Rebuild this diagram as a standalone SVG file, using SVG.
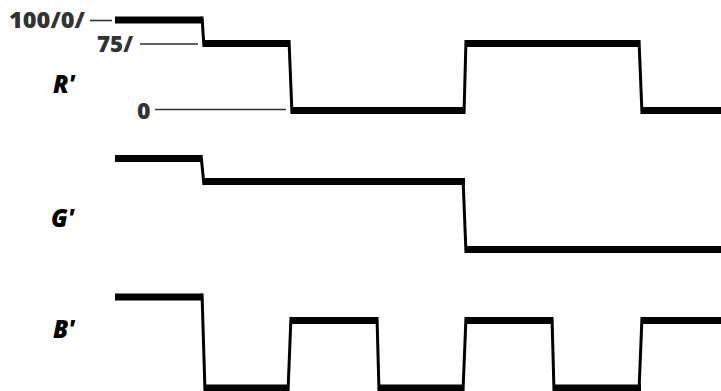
<svg xmlns="http://www.w3.org/2000/svg" width="721" height="391" viewBox="0 0 721 391">
<style>
.h{stroke:#000;stroke-width:7;fill:none;stroke-linecap:butt}
.v{stroke:#000;stroke-width:3;fill:none;stroke-linecap:butt}
.lvl{font-family:"Open Sans","Liberation Sans",sans-serif;font-weight:800;font-size:23px;fill:#333}
.sig{font-family:"Open Sans","Liberation Sans",sans-serif;font-weight:800;font-style:italic;font-size:24px;fill:#000}
.ref{stroke:#333;stroke-width:1.6;fill:none}
</style>
<rect width="721" height="391" fill="#fff"/>
<g id="labels">
<text class="lvl" x="9" y="28" textLength="76" lengthAdjust="spacingAndGlyphs">100/0/</text>
<text class="lvl" x="97" y="52" textLength="36" lengthAdjust="spacingAndGlyphs">75/</text>
<text class="lvl" x="137" y="119">0</text>
</g>
<g id="connectors">
<line class="ref" x1="90" y1="20.5" x2="112" y2="20.5"/>
<line class="ref" x1="140" y1="44" x2="198" y2="44"/>
<line class="ref" x1="155" y1="109.5" x2="286" y2="109.5"/>
</g>
<g id="R">
<text class="sig" x="53" y="93">R'</text>
<line class="h" x1="115" y1="20" x2="202" y2="20"/>
<line class="v" x1="202" y1="16.5" x2="204" y2="47"/>
<line class="h" x1="203" y1="43.5" x2="289" y2="43.5"/>
<line class="v" x1="289" y1="40" x2="292" y2="114"/>
<line class="h" x1="291" y1="110.5" x2="464" y2="110.5"/>
<line class="v" x1="464" y1="114" x2="466" y2="40"/>
<line class="h" x1="465" y1="43.5" x2="640" y2="43.5"/>
<line class="v" x1="639" y1="40" x2="642" y2="114"/>
<line class="h" x1="641" y1="110.5" x2="721" y2="110.5"/>
</g>
<g id="G">
<text class="sig" x="51" y="227">G'</text>
<line class="h" x1="115" y1="158.5" x2="202" y2="158.5"/>
<line class="v" x1="201" y1="155" x2="204" y2="185"/>
<line class="h" x1="203" y1="181.5" x2="465" y2="181.5"/>
<line class="v" x1="463" y1="178" x2="466" y2="253"/>
<line class="h" x1="465" y1="249.5" x2="721" y2="249.5"/>
</g>
<g id="B">
<text class="sig" x="53" y="338">B'</text>
<line class="h" x1="115" y1="297" x2="203" y2="297"/>
<line class="v" x1="202" y1="293.5" x2="205" y2="391"/>
<line class="h" x1="204" y1="388" x2="289" y2="388"/>
<line class="v" x1="288" y1="391" x2="291" y2="317"/>
<line class="h" x1="290" y1="320.5" x2="378" y2="320.5"/>
<line class="v" x1="377" y1="317" x2="379" y2="391"/>
<line class="h" x1="378" y1="388" x2="464" y2="388"/>
<line class="v" x1="463" y1="391" x2="466" y2="317"/>
<line class="h" x1="465" y1="320.5" x2="553" y2="320.5"/>
<line class="v" x1="552" y1="317" x2="554" y2="391"/>
<line class="h" x1="553" y1="388" x2="641" y2="388"/>
<line class="v" x1="639" y1="391" x2="642" y2="317"/>
<line class="h" x1="641" y1="320.5" x2="721" y2="320.5"/>
</g>
</svg>
